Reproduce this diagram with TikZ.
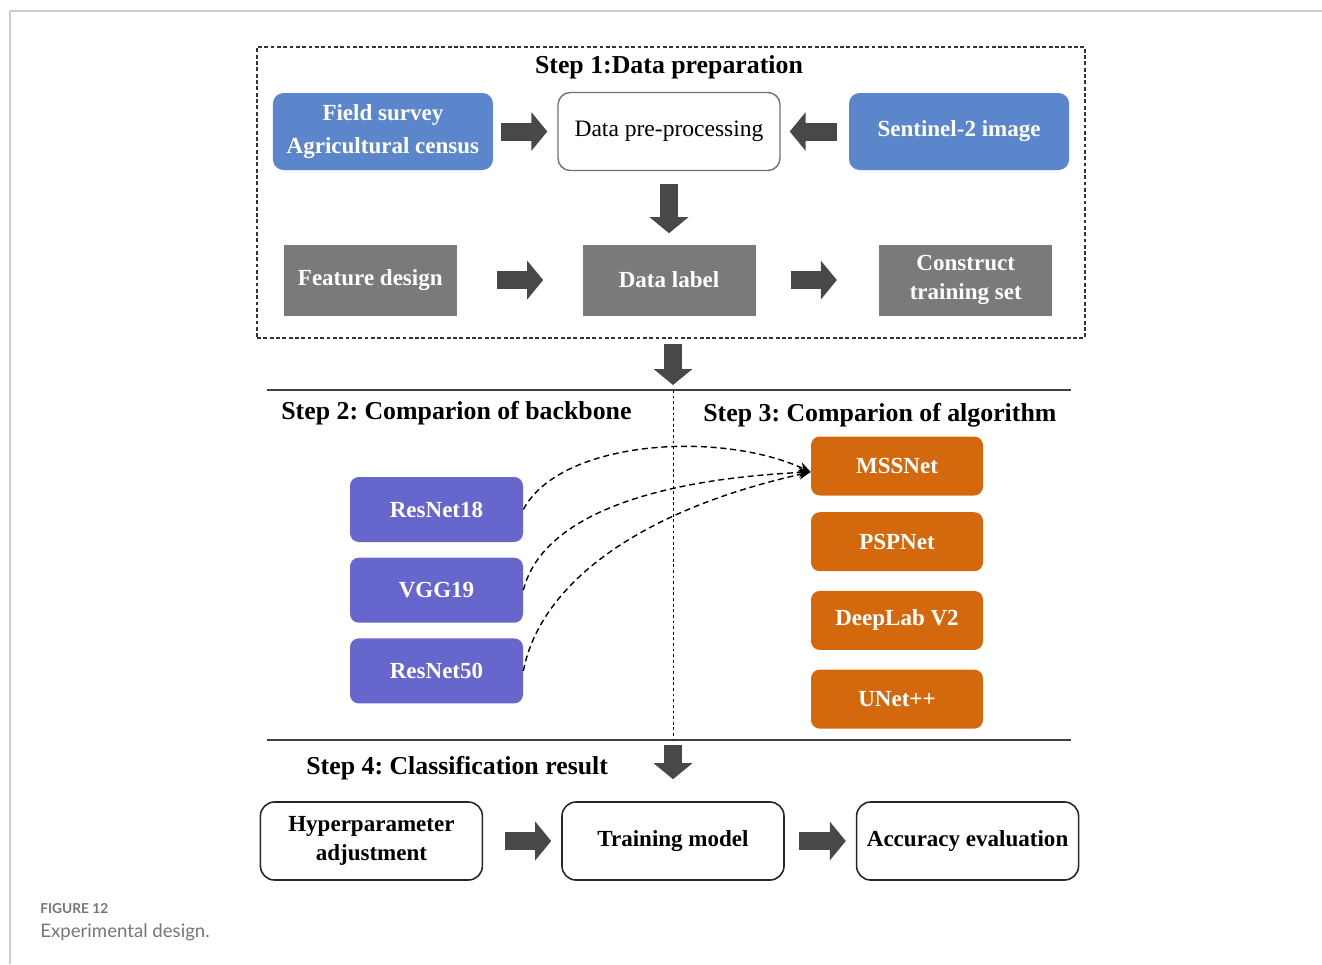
\documentclass[tikz,border=0pt]{standalone}
\usepackage{fontspec}
\setmainfont{Liberation Serif}
\newfontfamily\captionfont{Lato}
\usepackage{xcolor}
\usetikzlibrary{arrows.meta, positioning}
\frenchspacing

\definecolor{inputBlue}{RGB}{92,134,204}
\definecolor{stageGray}{RGB}{122,122,122}
\definecolor{netPurple}{RGB}{103,102,204}
\definecolor{algOrange}{RGB}{212,104,12}
\definecolor{arrowGray}{RGB}{72,72,72}
\definecolor{pageGray}{RGB}{205,205,205}
\definecolor{captionGray}{RGB}{118,118,118}

\begin{document}
\begin{tikzpicture}[
  baseBox/.style={rectangle, font=\fontsize{13.1}{16.5}\selectfont\bfseries, align=center, inner sep=2pt},
  inputBox/.style={baseBox, rounded corners=6pt, fill=inputBlue, text=white, minimum width=4.4cm, minimum height=1.54cm},
  processBox/.style={baseBox, font=\fontsize{13.4}{16.5}\selectfont, rounded corners=7pt, draw=black!55, thick, fill=white, minimum width=4.44cm, minimum height=1.56cm},
  stageBox/.style={baseBox, fill=stageGray, text=white, minimum width=3.46cm, minimum height=1.42cm},
  backboneBox/.style={baseBox, rounded corners=5pt, fill=netPurple, text=white, minimum width=3.46cm, minimum height=1.3cm},
  algorithmBox/.style={baseBox, rounded corners=5pt, fill=algOrange, text=white, minimum width=3.44cm, minimum height=1.18cm},
  resultBox/.style={baseBox, rounded corners=8pt, draw=black!85, line width=0.9pt, minimum width=4.44cm, minimum height=1.56cm},
  stepTitle/.style={font=\fontsize{14.7}{17}\selectfont\bfseries, inner sep=0pt},
  stepFrame/.style={draw=black!80, line width=0.8pt, dash pattern=on 2.2pt off 1.4pt, minimum width=16.56cm, minimum height=5.82cm},
  blockArrow/.style={draw=arrowGray, line width=3.6mm, -{Triangle[length=3.2mm, width=7.6mm]}},
  linkArrow/.style={black, line width=0.8pt, dash pattern=on 3.4pt off 2.2pt, -{Stealth[length=2.4mm, width=2mm]}},
  sectionRule/.style={draw=black!75, line width=1.2pt},
  dividerLine/.style={draw=black, line width=0.5pt, dash pattern=on 1.6pt off 1.6pt}
]
\useasboundingbox (0,0) rectangle (26.44,-19.28);
\draw[pageGray, line width=0.6pt] (0.2,-0.22) -- (26.44,-0.22);
\draw[pageGray, line width=0.6pt] (0.2,-0.22) -- (0.2,-19.28);

\node[stepFrame] (stepOne) at (13.42,-3.85) {};
\node[stepTitle] (titleOne) at (13.38,-1.34) {Step 1:Data preparation};
\node[processBox] (prep) at (13.38,-2.63) {Data pre-processing};
\node[inputBox, left=1.28cm of prep] (field) {Field survey\\[2pt]Agricultural census};
\node[inputBox, right=1.36cm of prep] (sentinel) {Sentinel-2 image};
\node[stageBox, below=1.46cm of prep] (dataLabel) {Data label};
\node[stageBox, left=2.5cm of dataLabel] (feature) {Feature design};
\node[stageBox, right=2.46cm of dataLabel] (trainSet) {Construct\\training set};
\draw[blockArrow, shorten <=0.16cm, shorten >=0.2cm] (field) -- (prep);
\draw[blockArrow, shorten <=0.24cm, shorten >=0.18cm] (sentinel) -- (prep);
\draw[blockArrow, shorten <=0.26cm, shorten >=0.22cm] (prep) -- (dataLabel);
\draw[blockArrow, shorten <=0.8cm, shorten >=0.78cm] (feature) -- (dataLabel);
\draw[blockArrow, shorten <=0.7cm, shorten >=0.84cm] (dataLabel) -- (trainSet);

\coordinate (ruleOneL) at (5.34,-7.8);
\coordinate (ruleOneR) at (21.42,-7.8);
\coordinate (splitTop) at (13.46,-7.8);
\coordinate (splitBottom) at (13.46,-14.8);
\coordinate (ruleTwoL) at (5.34,-14.8);
\coordinate (ruleTwoR) at (21.42,-14.8);
\draw[sectionRule] (ruleOneL) -- (ruleOneR);
\draw[sectionRule] (ruleTwoL) -- (ruleTwoR);
\draw[dividerLine] (splitTop) -- (splitBottom);
\draw[blockArrow, shorten <=0.1cm, shorten >=0.1cm] (stepOne.south -| splitTop) -- (splitTop);

\node[stepTitle, anchor=west] (titleTwo) at (5.62,-8.26) {Step 2: Comparion of backbone};
\node[stepTitle, anchor=west] (titleThree) at (14.06,-8.3) {Step 3: Comparion of algorithm};
\node[backboneBox] (resA) at (8.73,-10.19) {ResNet18};
\node[backboneBox, below=0.3cm of resA] (vgg) {VGG19};
\node[backboneBox, below=0.3cm of vgg] (resB) {ResNet50};
\node[algorithmBox] (mss) at (17.94,-9.32) {MSSNet};
\node[algorithmBox, below=0.32cm of mss] (psp) {PSPNet};
\node[algorithmBox, below=0.38cm of psp] (deeplab) {DeepLab V2};
\node[algorithmBox, below=0.38cm of deeplab] (unet) {UNet++};
\coordinate (mssIn) at ([yshift=-0.12cm]mss.west);
\draw[linkArrow] (resA.east) .. controls +(0.74,1.39) and +(-1.82,0.84) .. (mssIn);
\draw[linkArrow] (vgg.east) .. controls +(0.34,1.37) and +(-3.42,-0.16) .. (mssIn);
\draw[linkArrow] (resB.east) .. controls +(0.34,1.75) and +(-3.42,-0.76) .. (mssIn);

\node[stepTitle, anchor=west] (titleFour) at (6.12,-15.36) {Step 4: Classification result};
\node[resultBox] (training) at (13.46,-16.82) {Training model};
\node[resultBox, left=1.56cm of training] (hyper) {Hyperparameter\\adjustment};
\node[resultBox, right=1.42cm of training] (accuracy) {Accuracy evaluation};
\draw[blockArrow, shorten <=0.1cm, shorten >=0.44cm] (splitBottom) -- (training);
\draw[blockArrow, shorten <=0.44cm, shorten >=0.2cm] (hyper) -- (training);
\draw[blockArrow, shorten <=0.28cm, shorten >=0.2cm] (training) -- (accuracy);

\node[anchor=west, inner sep=0pt, text=captionGray, font=\captionfont\bfseries\fontsize{7.8}{9}\selectfont] (figNum) at (0.8,-18.18) {FIGURE 12};
\node[anchor=west, inner sep=0pt, text=captionGray, font=\captionfont\fontsize{10.6}{12}\selectfont] (figCaption) at (0.8,-18.64) {Experimental design.};
\end{tikzpicture}
\end{document}
